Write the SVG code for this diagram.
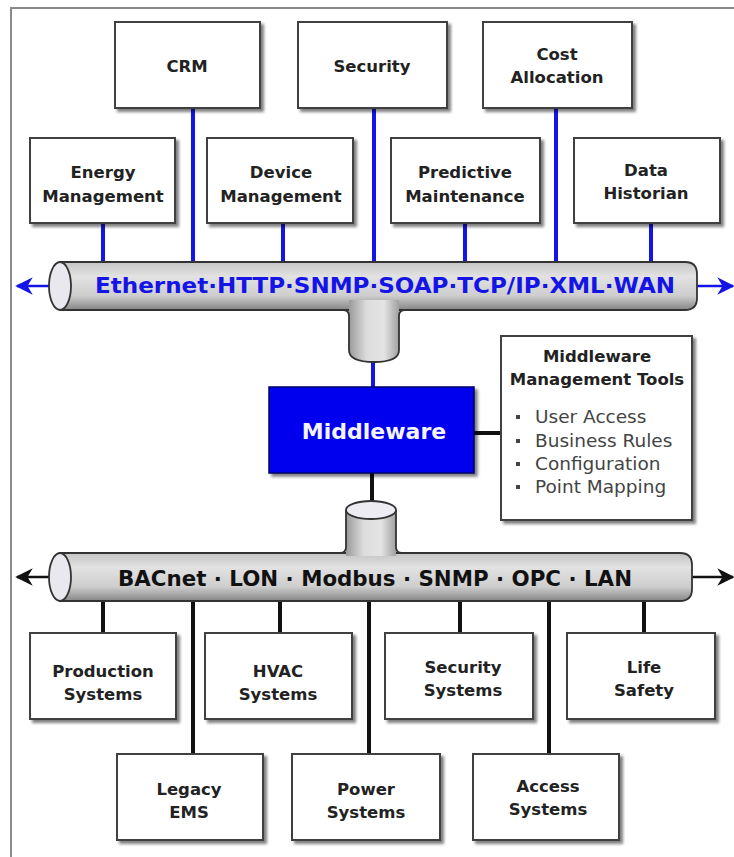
<svg xmlns="http://www.w3.org/2000/svg" width="734" height="857" viewBox="0 0 734 857">
<defs>
  <filter id="sh" x="-10%" y="-10%" width="130%" height="130%">
    <feGaussianBlur in="SourceAlpha" stdDeviation="1.5"/>
    <feOffset dx="3" dy="3" result="b"/>
    <feComponentTransfer><feFuncA type="linear" slope="0.5"/></feComponentTransfer>
    <feMerge><feMergeNode/><feMergeNode in="SourceGraphic"/></feMerge>
  </filter>
  <linearGradient id="pipeH" x1="0" y1="0" x2="0" y2="1">
    <stop offset="0" stop-color="#c4c4c4"/>
    <stop offset="0.3" stop-color="#e2e2e2"/>
    <stop offset="0.7" stop-color="#cecece"/>
    <stop offset="1" stop-color="#858585"/>
  </linearGradient>
  <linearGradient id="pipeV" x1="0" y1="0" x2="1" y2="0">
    <stop offset="0" stop-color="#9a9a9a"/>
    <stop offset="0.35" stop-color="#dcdcdc"/>
    <stop offset="0.7" stop-color="#e4e4e4"/>
    <stop offset="1" stop-color="#a0a0a0"/>
  </linearGradient>
  <marker id="arB" viewBox="0 0 10 10" refX="9" refY="5" markerWidth="7" markerHeight="7" orient="auto">
    <path d="M0,0 L10,5 L0,10 L3,5 Z" fill="#1414e6"/>
  </marker>
  <marker id="arK" viewBox="0 0 10 10" refX="9" refY="5" markerWidth="7" markerHeight="7" orient="auto">
    <path d="M0,0 L10,5 L0,10 L3,5 Z" fill="#111"/>
  </marker>
</defs>
<style>
  .box { fill: #ffffff; stroke: #404040; stroke-width: 2; }
  .lbl { font-family: "DejaVu Sans", Verdana, sans-serif; font-weight: bold; font-size: 16.5px; fill: #222; text-anchor: middle; }
  .pipe { fill: url(#pipeH); stroke: #333; stroke-width: 1.8; }
  .end { fill: #e8e8ee; stroke: #333; stroke-width: 1.8; }
  .blue { stroke: #1414e6; stroke-width: 4; fill: none; }
  .blk { stroke: #111; stroke-width: 4; fill: none; }
  .frame { stroke: #8a8a8a; stroke-width: 2; fill: none; }
  .bul { font-family: "DejaVu Sans", Verdana, sans-serif; font-size: 18.5px; fill: #444; }
  .dot { fill: #444; }
</style>
<rect x="0" y="0" width="734" height="857" fill="#ffffff"/>
<path class="frame" d="M11,857 V8 H734"/>

<g id="connectors">
  <line class="blue" x1="103" y1="223" x2="103" y2="264"/>
  <line class="blue" x1="193" y1="108" x2="193" y2="264"/>
  <line class="blue" x1="283" y1="223" x2="283" y2="264"/>
  <line class="blue" x1="374" y1="108" x2="374" y2="264"/>
  <line class="blue" x1="465" y1="223" x2="465" y2="264"/>
  <line class="blue" x1="556" y1="108" x2="556" y2="264"/>
  <line class="blue" x1="651" y1="223" x2="651" y2="264"/>
  <line class="blue" x1="373" y1="360" x2="373" y2="388"/>
  <line class="blk" x1="372" y1="472" x2="372" y2="510"/>
  <line class="blk" x1="474" y1="433" x2="501" y2="433"/>
  <line class="blk" x1="103" y1="599" x2="103" y2="634"/>
  <line class="blk" x1="193" y1="599" x2="193" y2="755"/>
  <line class="blk" x1="280" y1="599" x2="280" y2="634"/>
  <line class="blk" x1="369" y1="599" x2="369" y2="755"/>
  <line class="blk" x1="460" y1="599" x2="460" y2="634"/>
  <line class="blk" x1="549" y1="599" x2="549" y2="755"/>
  <line class="blk" x1="644" y1="599" x2="644" y2="634"/>
  <line stroke="#1414e6" stroke-width="2.5" x1="60" y1="286" x2="17" y2="286" marker-end="url(#arB)"/>
  <line stroke="#1414e6" stroke-width="2.5" x1="697" y1="286" x2="733" y2="286" marker-end="url(#arB)"/>
  <line stroke="#111" stroke-width="2.5" x1="60" y1="577" x2="17" y2="577" marker-end="url(#arK)"/>
  <line stroke="#111" stroke-width="2.5" x1="692" y1="577" x2="733" y2="577" marker-end="url(#arK)"/>
</g>

<g id="top-bus">
  <path class="pipe" d="M60,262 H685 Q697,262 697,274 V298 Q697,310 685,310 H60 Z"/>
  <path d="M349,300 V350 Q349,362 374,362 Q399,362 399,350 V300 Z" fill="url(#pipeV)"/>
  <path d="M343,310 Q349,310 349,316 V350 Q349,362 374,362 Q399,362 399,350 V316 Q399,310 405,310" fill="none" stroke="#333" stroke-width="1.8"/>
  <ellipse class="end" cx="60" cy="286" rx="11" ry="24"/>
  <text x="385" y="293" font-family="DejaVu Sans, Verdana, sans-serif" font-weight="bold" font-size="21" fill="#1414e6" text-anchor="middle" textLength="580" lengthAdjust="spacingAndGlyphs">Ethernet·HTTP·SNMP·SOAP·TCP/IP·XML·WAN</text>
</g>

<g id="bottom-bus">
  <path class="pipe" d="M60,553 H680 Q692,553 692,565 V589 Q692,601 680,601 H60 Z"/>
  <path d="M346,510 V556 H396 V510 Z" fill="url(#pipeV)"/>
  <path d="M346,510 V547 Q346,553 340,553 M396,510 V547 Q396,553 402,553" fill="none" stroke="#333" stroke-width="1.8"/>
  <ellipse cx="371" cy="510" rx="25" ry="9" fill="#ececf2" stroke="#333" stroke-width="1.8"/>
  <ellipse class="end" cx="60" cy="577" rx="11" ry="24"/>
  <text x="375" y="586" font-family="DejaVu Sans, Verdana, sans-serif" font-weight="bold" font-size="21" fill="#111" text-anchor="middle" textLength="514" lengthAdjust="spacingAndGlyphs">BACnet · LON · Modbus · SNMP · OPC · LAN</text>
</g>

<g id="crm"><rect class="box" filter="url(#sh)" x="115" y="22" width="145" height="86"/><text class="lbl" x="187" y="72">CRM</text></g>
<g id="security"><rect class="box" filter="url(#sh)" x="298" y="22" width="149" height="86"/><text class="lbl" x="372" y="72">Security</text></g>
<g id="cost-allocation"><rect class="box" filter="url(#sh)" x="483" y="22" width="149" height="86"/><text class="lbl" x="557" y="60">Cost</text><text class="lbl" x="557" y="83">Allocation</text></g>

<g id="energy-management"><rect class="box" filter="url(#sh)" x="30" y="138" width="145" height="85"/><text class="lbl" x="103" y="178">Energy</text><text class="lbl" x="103" y="202">Management</text></g>
<g id="device-management"><rect class="box" filter="url(#sh)" x="207" y="138" width="146" height="85"/><text class="lbl" x="281" y="178">Device</text><text class="lbl" x="281" y="202">Management</text></g>
<g id="predictive-maintenance"><rect class="box" filter="url(#sh)" x="391" y="138" width="149" height="85"/><text class="lbl" x="465" y="178">Predictive</text><text class="lbl" x="465" y="202">Maintenance</text></g>
<g id="data-historian"><rect class="box" filter="url(#sh)" x="574" y="138" width="146" height="85"/><text class="lbl" x="646" y="176">Data</text><text class="lbl" x="646" y="199">Historian</text></g>

<g id="middleware"><rect filter="url(#sh)" x="269" y="387" width="205" height="86" fill="#0000ee" stroke="#00006a" stroke-width="1.5"/><text x="374" y="439" font-family="DejaVu Sans, Verdana, sans-serif" font-weight="bold" font-size="22" fill="#f4f4ff" text-anchor="middle">Middleware</text></g>

<g id="management-tools"><rect class="box" filter="url(#sh)" x="501" y="336" width="191" height="184"/>
  <text class="lbl" x="597" y="362">Middleware</text>
  <text class="lbl" x="597" y="385">Management Tools</text>
  <rect class="dot" x="516" y="415" width="4" height="4"/><text class="bul" x="535" y="423">User Access</text>
  <rect class="dot" x="516" y="439" width="4" height="4"/><text class="bul" x="535" y="447">Business Rules</text>
  <rect class="dot" x="516" y="462" width="4" height="4"/><text class="bul" x="535" y="470">Configuration</text>
  <rect class="dot" x="516" y="485" width="4" height="4"/><text class="bul" x="535" y="493">Point Mapping</text>
</g>

<g id="production-systems"><rect class="box" filter="url(#sh)" x="30" y="633" width="146" height="86"/><text class="lbl" x="103" y="677">Production</text><text class="lbl" x="103" y="700">Systems</text></g>
<g id="hvac-systems"><rect class="box" filter="url(#sh)" x="205" y="633" width="147" height="86"/><text class="lbl" x="278" y="677">HVAC</text><text class="lbl" x="278" y="700">Systems</text></g>
<g id="security-systems"><rect class="box" filter="url(#sh)" x="385" y="633" width="148" height="86"/><text class="lbl" x="463" y="673">Security</text><text class="lbl" x="463" y="696">Systems</text></g>
<g id="life-safety"><rect class="box" filter="url(#sh)" x="567" y="633" width="148" height="86"/><text class="lbl" x="644" y="673">Life</text><text class="lbl" x="644" y="696">Safety</text></g>

<g id="legacy-ems"><rect class="box" filter="url(#sh)" x="117" y="754" width="146" height="86"/><text class="lbl" x="189" y="795">Legacy</text><text class="lbl" x="189" y="818">EMS</text></g>
<g id="power-systems"><rect class="box" filter="url(#sh)" x="292" y="754" width="148" height="86"/><text class="lbl" x="366" y="795">Power</text><text class="lbl" x="366" y="818">Systems</text></g>
<g id="access-systems"><rect class="box" filter="url(#sh)" x="473" y="754" width="146" height="86"/><text class="lbl" x="548" y="792">Access</text><text class="lbl" x="548" y="815">Systems</text></g>
</svg>
